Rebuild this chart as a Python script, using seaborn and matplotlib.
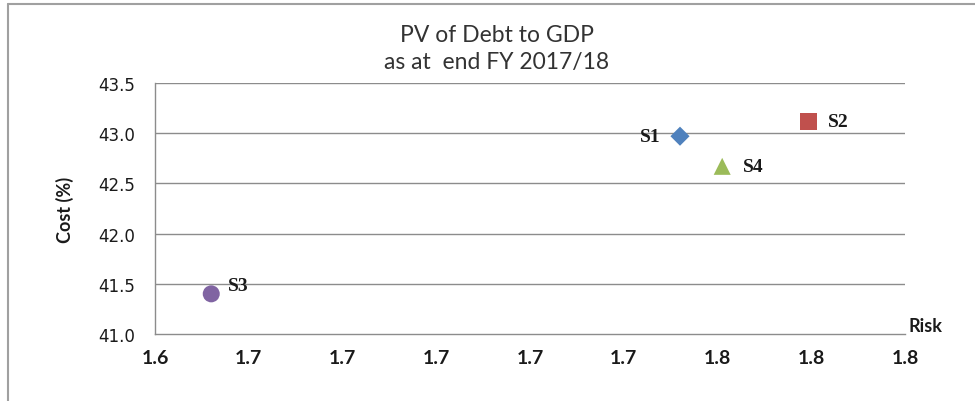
import matplotlib
matplotlib.use("Agg")
import matplotlib.pyplot as plt
import seaborn as sns
import pandas as pd
from matplotlib.lines import Line2D

# ---- data ----
strategies = ["S1", "S2", "S3", "S4"]
risk = [1.752, 1.7795, 1.652, 1.761]
cost = [42.97, 43.12, 41.40, 42.67]
x_ticks = [1.64, 1.66, 1.68, 1.70, 1.72, 1.74, 1.76, 1.78, 1.80]
y_ticks = [41.0, 41.5, 42.0, 42.5, 43.0, 43.5]
title_lines = ["PV of Debt to GDP", "as at  end FY 2017/18"]

df = pd.DataFrame({"Strategy": strategies, "Risk": risk, "Cost": cost})

sns.set_theme(style="white")
plt.rcParams["font.family"] = ["Lato", "DejaVu Sans"]

colors = {"S1": "#4F81BD", "S2": "#C0504D", "S3": "#8064A2", "S4": "#9BBB59"}
markers = {"S1": "D", "S2": "s", "S3": "o", "S4": "^"}
sizes = {"S1": 95, "S2": 150, "S3": 150, "S4": 150}

fig = plt.figure(figsize=(9.75, 4.02), dpi=100)
ax = fig.add_axes([155 / 975, 1 - 335 / 402, 750 / 975, (335 - 84) / 402])

for s in strategies:
    sub = df[df["Strategy"] == s]
    sns.scatterplot(data=sub, x="Risk", y="Cost", ax=ax, marker=markers[s],
                    color=colors[s], s=sizes[s], edgecolor="none", legend=False,
                    zorder=5)

ax.set_xlim(x_ticks[0], x_ticks[-1])
ax.set_ylim(y_ticks[0], y_ticks[-1])
ax.set_xticks(x_ticks)
ax.set_xticklabels([f"{v:.1f}" for v in x_ticks])
ax.set_yticks(y_ticks)
ax.set_yticklabels([f"{v:.1f}" for v in y_ticks])

for y in y_ticks[1:]:
    ax.axhline(y, color="#8C8C8C", lw=1.0, zorder=1)

for side in ["top", "right"]:
    ax.spines[side].set_visible(False)
for side in ["left", "bottom"]:
    ax.spines[side].set_color("#8C8C8C")
    ax.spines[side].set_linewidth(1.0)

ax.tick_params(axis="both", direction="out", length=5, width=1, color="#8C8C8C",
               labelcolor="#1A1A1A")
ax.tick_params(axis="x", pad=6)
ax.tick_params(axis="y", pad=9)
for lab in ax.get_xticklabels():
    lab.set_fontsize(14)
    lab.set_fontweight("bold")
for lab in ax.get_yticklabels():
    lab.set_family(["DejaVu Sans"])
    lab.set_fontsize(12)

ax.set_xlabel("")
ax.set_ylabel("Cost (%)", fontsize=13, fontweight="bold", color="#1A1A1A", labelpad=18)
ax.text(1.0 + 3 / 750, 0.0, "Risk", transform=ax.transAxes, fontsize=13,
        fontweight="bold", color="#1A1A1A", ha="left", va="bottom")

# data labels
offsets = {"S1": (-14, 0, "right"), "S2": (14, 0, "left"), "S3": (12, 6, "left"), "S4": (15, 0, "left")}
for s, xv, yv in zip(strategies, risk, cost):
    dx, dy, ha = offsets[s]
    ax.annotate(s, (xv, yv), xytext=(dx, dy), textcoords="offset points",
                ha=ha, va="center", fontsize=14, fontweight="bold", color="#1A1A1A",
                family=["Liberation Serif", "DejaVu Serif"])

fig.text(497 / 975, 1 - 35 / 402, title_lines[0], ha="center", va="center",
         fontsize=16.5, color="#333333")
fig.text(497 / 975, 1 - 63 / 402, title_lines[1], ha="center", va="center",
         fontsize=16.5, color="#333333")

# outer chart frame (top and left)
fig.add_artist(Line2D([8 / 975, 1.0], [1 - 4.5 / 402, 1 - 4.5 / 402],
                      transform=fig.transFigure, color="#A0A0A0", lw=1.5))
fig.add_artist(Line2D([8 / 975, 8 / 975], [0.0, 1 - 4.5 / 402],
                      transform=fig.transFigure, color="#A0A0A0", lw=1.5))

fig.savefig("out.png", dpi=100)
